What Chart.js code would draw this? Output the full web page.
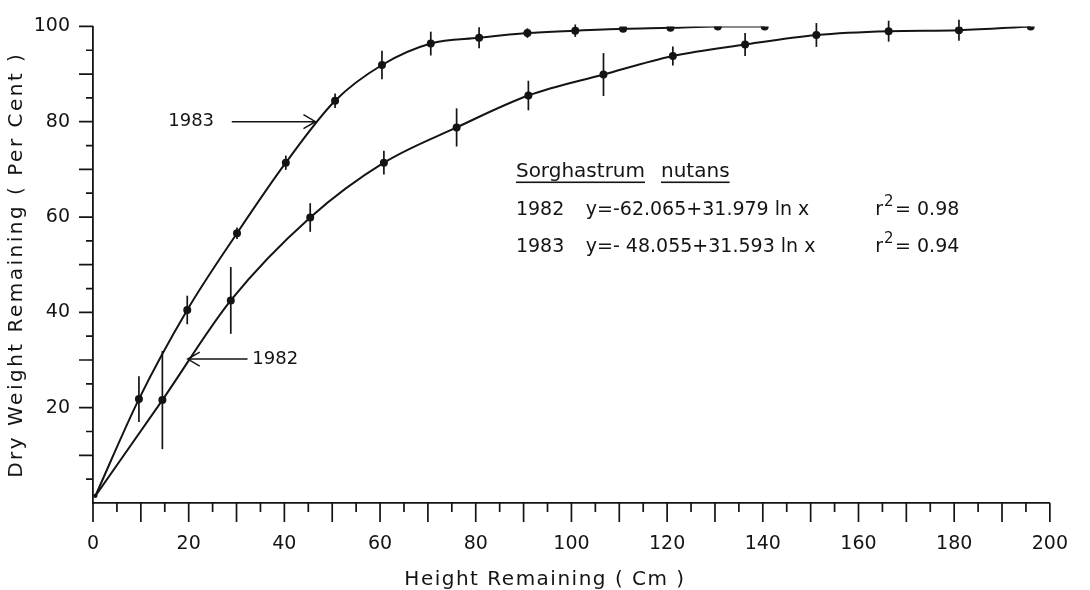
<!DOCTYPE html>
<html>
<head>
<meta charset="utf-8">
<script src="https://cdn.jsdelivr.net/npm/chart.js@4.4.1/dist/chart.umd.min.js"></script>
<style>
  html, body { margin: 0; padding: 0; background: #fff; }
  #wrap { width: 1090px; height: 590px; }
</style>
</head>
<body>
<div id="wrap"><canvas id="dryChart" width="1090" height="590"></canvas></div>
<script>
// height remaining (cm) / dry weight remaining (%) / error bar half-length
const heights1983 = [0.5, 9.6, 19.7, 30.1, 40.3, 50.6, 60.4, 70.6, 80.7, 90.8, 100.8, 110.8, 120.7, 130.6, 140.4];
const dryWeight1983 = [1.5, 21.8, 40.5, 56.6, 71.4, 84.4, 91.9, 96.4, 97.6, 98.6, 99.1, 99.5, 99.7, 100.0, 100.0];
const stdErr1983 = [0, 4.8, 3.0, 1.2, 1.5, 1.5, 3.0, 2.5, 2.2, 1.0, 1.3, 0, 0, 0, 0];

const heights1982 = [0.5, 14.5, 28.8, 45.4, 60.8, 76.0, 91.0, 106.7, 121.2, 136.3, 151.2, 166.3, 181.0, 196.0];
const dryWeight1982 = [1.5, 21.6, 42.5, 59.9, 71.4, 78.8, 85.5, 89.9, 93.8, 96.2, 98.2, 99.0, 99.2, 100.0];
const stdErr1982 = [0, 10.3, 7.0, 3.0, 2.5, 4.0, 3.1, 4.5, 2.0, 2.4, 2.5, 2.2, 2.2, 0];

const xTickStep = 20;
const yTickStep = 20;
const minorStep = 5;

const speciesName = ['Sorghastrum', 'nutans'];
const fitYears = ['1982', '1983'];
const fitEquations = ['y=-62.065+31.979 ln x', 'y=- 48.055+31.593 ln x'];
const fitR2 = ['0.98', '0.94'];

const ink = '#141414';
const FONT = "'DejaVu Sans', sans-serif";

function points(xs, ys) {
  return xs.map((x, i) => ({ x: x, y: ys[i] }));
}

// vertical error bars drawn through the scales
const errorBars = {
  id: 'errorBars',
  afterDatasetsDraw(chart) {
    const { ctx, scales: { x, y } } = chart;
    const errs = [stdErr1983, stdErr1982];
    ctx.save();
    ctx.strokeStyle = ink;
    ctx.lineWidth = 1.7;
    chart.data.datasets.forEach((ds, d) => {
      ds.data.forEach((p, i) => {
        const e = errs[d][i];
        if (!e) return;
        const px = x.getPixelForValue(p.x);
        ctx.beginPath();
        ctx.moveTo(px, y.getPixelForValue(p.y - e));
        ctx.lineTo(px, y.getPixelForValue(p.y + e));
        ctx.stroke();
      });
    });
    ctx.restore();
  }
};

// long ticks every 10 units, short ones in between, all outside the axes
const axisTicks = {
  id: 'axisTicks',
  afterDraw(chart) {
    const { ctx, scales: { x, y } } = chart;
    ctx.save();
    ctx.strokeStyle = ink;
    ctx.lineWidth = 1.7;
    ctx.beginPath();
    for (let v = 0; v <= x.max; v += minorStep) {
      const px = x.getPixelForValue(v);
      ctx.moveTo(px, y.bottom);
      ctx.lineTo(px, y.bottom + (v % 10 === 0 ? 19 : 9));
    }
    for (let v = minorStep; v <= y.max; v += minorStep) {
      const py = y.getPixelForValue(v);
      ctx.moveTo(x.left, py);
      ctx.lineTo(x.left - (v % 10 === 0 ? 14 : 7), py);
    }
    ctx.stroke();
    ctx.restore();
  }
};

function arrow(ctx, x0, y0, x1, y1) {
  const dir = Math.sign(x1 - x0);
  ctx.beginPath();
  ctx.moveTo(x0, y0);
  ctx.lineTo(x1, y1);
  ctx.moveTo(x1 - dir * 12, y1 - 7);
  ctx.lineTo(x1, y1);
  ctx.lineTo(x1 - dir * 12, y1 + 7);
  ctx.stroke();
}

// axis titles, curve labels and the regression text
const annotations = {
  id: 'annotations',
  afterDraw(chart) {
    const { ctx, scales: { x, y } } = chart;
    ctx.save();
    ctx.fillStyle = ink;
    ctx.strokeStyle = ink;
    ctx.lineWidth = 1.5;

    // axis titles
    ctx.font = '20px ' + FONT;
    ctx.letterSpacing = '1.5px';
    ctx.textAlign = 'center';
    ctx.textBaseline = 'middle';
    ctx.fillText('Height Remaining ( Cm )', 545, 580);
    ctx.save();
    ctx.translate(17, (y.top + y.bottom) / 2);
    ctx.rotate(-Math.PI / 2);
    ctx.letterSpacing = '2.5px';
    ctx.fillText('Dry Weight Remaining ( Per Cent )', 0, 0);
    ctx.restore();

    // curve labels with arrows
    ctx.letterSpacing = '0px';
    ctx.font = '18px ' + FONT;
    ctx.textAlign = 'right';
    ctx.fillText(fitYears[1], x.getPixelForValue(25.3), y.getPixelForValue(80.0));
    arrow(ctx, x.getPixelForValue(29.0), y.getPixelForValue(80.0), x.getPixelForValue(46.5), y.getPixelForValue(80.0));
    ctx.textAlign = 'left';
    ctx.fillText(fitYears[0], x.getPixelForValue(33.3), y.getPixelForValue(30.2));
    arrow(ctx, x.getPixelForValue(32.3), y.getPixelForValue(30.2), x.getPixelForValue(19.8), y.getPixelForValue(30.2));

    // species name, each word underlined
    const left = x.getPixelForValue(88.4);
    ctx.font = '20px ' + FONT;
    ctx.textBaseline = 'alphabetic';
    let tx = left;
    const nameY = y.getPixelForValue(68.3);
    speciesName.forEach(w => {
      ctx.fillText(w, tx, nameY);
      const wd = ctx.measureText(w).width;
      ctx.fillRect(tx, nameY + 4, wd, 1.6);
      tx += wd + 16;
    });

    // fitted equations
    const rowY = [60.5, 52.7];
    fitYears.forEach((yr, i) => {
      const by = y.getPixelForValue(rowY[i]);
      ctx.font = '19px ' + FONT;
      ctx.fillText(yr, left, by);
      ctx.fillText(fitEquations[i], x.getPixelForValue(103.0), by);
      const rx = x.getPixelForValue(163.5);
      ctx.fillText('r', rx, by);
      const rw = ctx.measureText('r').width;
      ctx.font = '15px ' + FONT;
      ctx.fillText('2', rx + rw + 1, by - 9);
      ctx.font = '19px ' + FONT;
      ctx.fillText('= ' + fitR2[i], rx + rw + 12, by);
    });
    ctx.restore();
  }
};

const ctx = document.getElementById('dryChart').getContext('2d');
const dryChart = new Chart(ctx, {
  type: 'line',
  data: {
    datasets: [{
      label: fitYears[1],
      data: points(heights1983, dryWeight1983),
      borderColor: ink,
      borderWidth: 2,
      backgroundColor: ink,
      pointRadius: heights1983.map((h, i) => i === 0 ? 2 : 4),
      pointBorderWidth: 0,
      cubicInterpolationMode: 'monotone',
      fill: false
    }, {
      label: fitYears[0],
      data: points(heights1982, dryWeight1982),
      borderColor: ink,
      borderWidth: 2,
      backgroundColor: ink,
      pointRadius: heights1982.map((h, i) => i === 0 ? 2 : 4),
      pointBorderWidth: 0,
      cubicInterpolationMode: 'monotone',
      fill: false
    }]
  },
  options: {
    responsive: false,
    animation: false,
    devicePixelRatio: 1,
    layout: { padding: { top: 17, right: 35, left: 0, bottom: 0 } },
    plugins: {
      legend: { display: false },
      tooltip: { enabled: false }
    },
    scales: {
      x: {
        type: 'linear',
        min: 0,
        max: 200,
        grid: { display: false },
        border: { display: true, color: ink, width: 1.8 },
        ticks: {
          stepSize: xTickStep,
          padding: 22,
          maxRotation: 0,
          autoSkip: false,
          color: ink,
          font: { family: FONT, size: 19 }
        },
        afterFit(scale) { scale.height = 87; }
      },
      y: {
        type: 'linear',
        min: 0,
        max: 100,
        grid: { display: false },
        border: { display: true, color: ink, width: 1.8 },
        ticks: {
          stepSize: yTickStep,
          padding: 15,
          color: ink,
          font: { family: FONT, size: 19 },
          callback: v => v === 0 ? '' : v
        },
        afterFit(scale) { scale.width = 93; }
      }
    }
  },
  plugins: [errorBars, axisTicks, annotations]
});
</script>
</body>
</html>
